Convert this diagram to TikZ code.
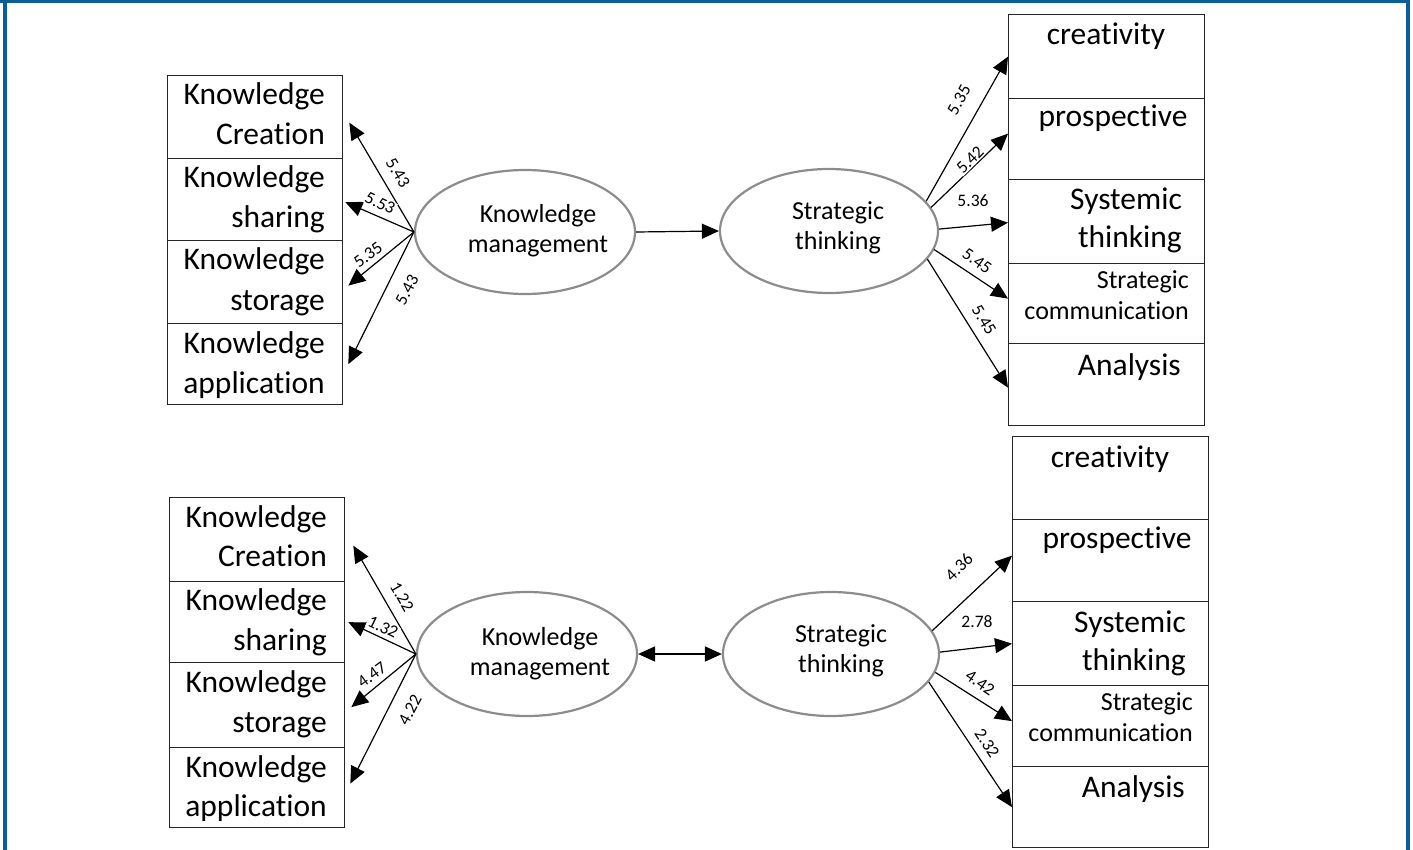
\documentclass[tikz,border=0pt]{standalone}
\usepackage{fontspec}
\setmainfont{Carlito}[Ligatures=NoCommon]
\usetikzlibrary{arrows.meta,calc,shapes.geometric}
\definecolor{frameblue}{RGB}{8,94,158}
\definecolor{ovalgrey}{RGB}{140,140,140}
\begin{document}
\begin{tikzpicture}[x=1pt,y=-1pt,
  box/.style={draw=black!85, line width=1.3pt, inner sep=0pt, anchor=north west},
  latent/.style={ellipse, draw=ovalgrey, line width=2.2pt, inner sep=0pt},
  bigtxt/.style={font=\fontsize{31.5}{38}\selectfont, inner sep=0pt},
  midtxt/.style={font=\fontsize{26}{31}\selectfont, inner sep=0pt},
  coef/.style={font=\fontsize{17.5}{20}\selectfont, fill=white, inner sep=1pt},
  link/.style={line width=1.2pt, -{Triangle[length=17pt,width=15pt]}},
  both/.style={line width=1.6pt, {Triangle[length=17pt,width=15pt]}-{Triangle[length=17pt,width=15pt]}},
]
\useasboundingbox (0,0) rectangle (1413,850);
% frame
\fill[frameblue] (0,0) rectangle (1410,3.5);
\fill[frameblue] (3.3,0) rectangle (6.7,850);
\fill[frameblue] (1406,0) rectangle (1409.5,850);

% ---------------- upper model ----------------
\node[box, minimum width=175pt, minimum height=83pt] (kc1) at (167,75) {};
\node[box, minimum width=175pt, minimum height=82pt] (ks1) at (167,158) {};
\node[box, minimum width=175pt, minimum height=83pt] (kst1) at (167,240) {};
\node[box, minimum width=175pt, minimum height=81pt] (ka1) at (167,323) {};
\node[bigtxt, anchor=base east] (kc1a) at (325,105) {Knowledge};
\node[bigtxt, anchor=base east] (kc1b) at (325,145) {Creation};
\node[bigtxt, anchor=base east] (ks1a) at (325,188) {Knowledge};
\node[bigtxt, anchor=base east] (ks1b) at (325,228) {sharing};
\node[bigtxt, anchor=base east] (kst1a) at (325,270) {Knowledge};
\node[bigtxt, anchor=base east] (kst1b) at (325,310) {storage};
\node[bigtxt, anchor=base east] (ka1a) at (325,353) {Knowledge};
\node[bigtxt, anchor=base east] (ka1b) at (325,393) {application};

\node[latent, minimum width=220pt, minimum height=124pt] (km1) at (525,232) {};
\node[midtxt, anchor=base] (km1a) at (538,223) {Knowledge};
\node[midtxt, anchor=base] (km1b) at (538,253) {management};
\node[latent, minimum width=218pt, minimum height=124pt] (st1) at (829,231) {};
\node[midtxt, anchor=base] (st1a) at (838,220) {Strategic};
\node[midtxt, anchor=base] (st1b) at (838,250) {thinking};

\node[box, minimum width=196pt, minimum height=84pt] (cr1) at (1008,14) {};
\node[box, minimum width=196pt, minimum height=81pt] (pr1) at (1008,98) {};
\node[box, minimum width=196pt, minimum height=84pt] (sy1) at (1008,179) {};
\node[box, minimum width=196pt, minimum height=80pt] (sc1) at (1008,263) {};
\node[box, minimum width=196pt, minimum height=82pt] (an1) at (1008,343) {};
\node[bigtxt, anchor=base] (cr1a) at (1106,45) {creativity};
\node[bigtxt, anchor=base] (pr1a) at (1113,127) {prospective};
\node[bigtxt, anchor=base east] (sy1a) at (1182,210) {Systemic};
\node[bigtxt, anchor=base east] (sy1b) at (1182,248) {thinking};
\node[midtxt, anchor=base east] (sc1a) at (1189,288) {Strategic};
\node[midtxt, anchor=base east] (sc1b) at (1189,319) {communication};
\node[bigtxt, anchor=base east] (an1a) at (1181,375) {Analysis};

\draw[link] (km1.east) -- (st1.west);
\draw[link] (km1.west) -- ($(kc1.east)+(6,5.5)$);
\draw[link] (km1.west) -- ($(ks1.east)+(2,2.5)$);
\draw[link] (km1.west) -- ($(kst1.east)+(5,3.5)$);
\draw[link] (km1.west) -- ($(ka1.east)+(5,0)$);
\draw[link] (st1.17) -- (cr1.west);
\draw[link] (st1.13) -- ($(pr1.west)+(0,-5.5)$);
\draw[link] (st1.1) -- ($(sy1.west)+(0,1)$);
\draw[link] (st1.-10) -- ($(sc1.west)+(0,-5)$);
\draw[link] (st1.-16) -- ($(an1.west)+(0,3)$);

\node[coef, rotate=-59] (c11) at (398,173) {5.43};
\node[coef, rotate=-26] (c12) at (380,203) {5.53};
\node[coef, rotate=36] (c13) at (368,255) {5.35};
\node[coef, rotate=62] (c14) at (407,290) {5.43};
\node[coef, rotate=61] (c15) at (959,100) {5.35};
\node[coef, rotate=45] (c16) at (970,160) {5.42};
\node[coef] (c17) at (973,201) {5.36};
\node[coef, rotate=-35] (c18) at (977,261) {5.45};
\node[coef, rotate=-58] (c19) at (984,320) {5.45};

% ---------------- lower model ----------------
\node[box, minimum width=175pt, minimum height=84pt] (kc2) at (169,497) {};
\node[box, minimum width=175pt, minimum height=81pt] (ks2) at (169,581) {};
\node[box, minimum width=175pt, minimum height=85pt] (kst2) at (169,662) {};
\node[box, minimum width=175pt, minimum height=80pt] (ka2) at (169,747) {};
\node[bigtxt, anchor=base east] (kc2a) at (327,527) {Knowledge};
\node[bigtxt, anchor=base east] (kc2b) at (327,566) {Creation};
\node[bigtxt, anchor=base east] (ks2a) at (327,610) {Knowledge};
\node[bigtxt, anchor=base east] (ks2b) at (327,650) {sharing};
\node[bigtxt, anchor=base east] (kst2a) at (327,692) {Knowledge};
\node[bigtxt, anchor=base east] (kst2b) at (327,732) {storage};
\node[bigtxt, anchor=base east] (ka2a) at (327,777) {Knowledge};
\node[bigtxt, anchor=base east] (ka2b) at (327,816) {application};

\node[latent, minimum width=220pt, minimum height=124pt] (km2) at (527,654) {};
\node[midtxt, anchor=base] (km2a) at (540,645) {Knowledge};
\node[midtxt, anchor=base] (km2b) at (540,675) {management};
\node[latent, minimum width=216pt, minimum height=124pt] (st2) at (831,654) {};
\node[midtxt, anchor=base] (st2a) at (841,642) {Strategic};
\node[midtxt, anchor=base] (st2b) at (841,672) {thinking};

\node[box, minimum width=196pt, minimum height=83pt] (cr2) at (1012,436) {};
\node[box, minimum width=196pt, minimum height=82pt] (pr2) at (1012,519) {};
\node[box, minimum width=196pt, minimum height=84pt] (sy2) at (1012,601) {};
\node[box, minimum width=196pt, minimum height=81pt] (sc2) at (1012,685) {};
\node[box, minimum width=196pt, minimum height=81pt] (an2) at (1012,766) {};
\node[bigtxt, anchor=base] (cr2a) at (1110,467) {creativity};
\node[bigtxt, anchor=base] (pr2a) at (1117,548) {prospective};
\node[bigtxt, anchor=base east] (sy2a) at (1186,632) {Systemic};
\node[bigtxt, anchor=base east] (sy2b) at (1186,670) {thinking};
\node[midtxt, anchor=base east] (sc2a) at (1193,710) {Strategic};
\node[midtxt, anchor=base east] (sc2b) at (1193,741) {communication};
\node[bigtxt, anchor=base east] (an2a) at (1185,797) {Analysis};

\draw[both] (km2.east) -- (st2.west);
\draw[link] (km2.west) -- ($(kc2.east)+(8,6)$);
\draw[link] (km2.west) -- ($(ks2.east)+(3,0)$);
\draw[link] (km2.west) -- ($(kst2.east)+(6,2)$);
\draw[link] (km2.west) -- ($(ka2.east)+(5,-4)$);
\draw[link] (st2.13) -- ($(pr2.west)+(0,-5)$);
\draw[link] (st2.1.5) -- (sy2.west);
\draw[link] (st2.-10) -- ($(sc2.west)+(0,-5)$);
\draw[link] (st2.-16) -- (an2.west);

\node[coef, rotate=-60] (c21) at (402,597) {1.22};
\node[coef, rotate=-26] (c22) at (383,627) {1.32};
\node[coef, rotate=36] (c23) at (372,675) {4.47};
\node[coef, rotate=62] (c24) at (410,710) {4.22};
\node[coef, rotate=45] (c25) at (959,567) {4.36};
\node[coef] (c26) at (977,622) {2.78};
\node[coef, rotate=-34] (c27) at (980,683) {4.42};
\node[coef, rotate=-57] (c28) at (987,743) {2.32};
\end{tikzpicture}
\end{document}
